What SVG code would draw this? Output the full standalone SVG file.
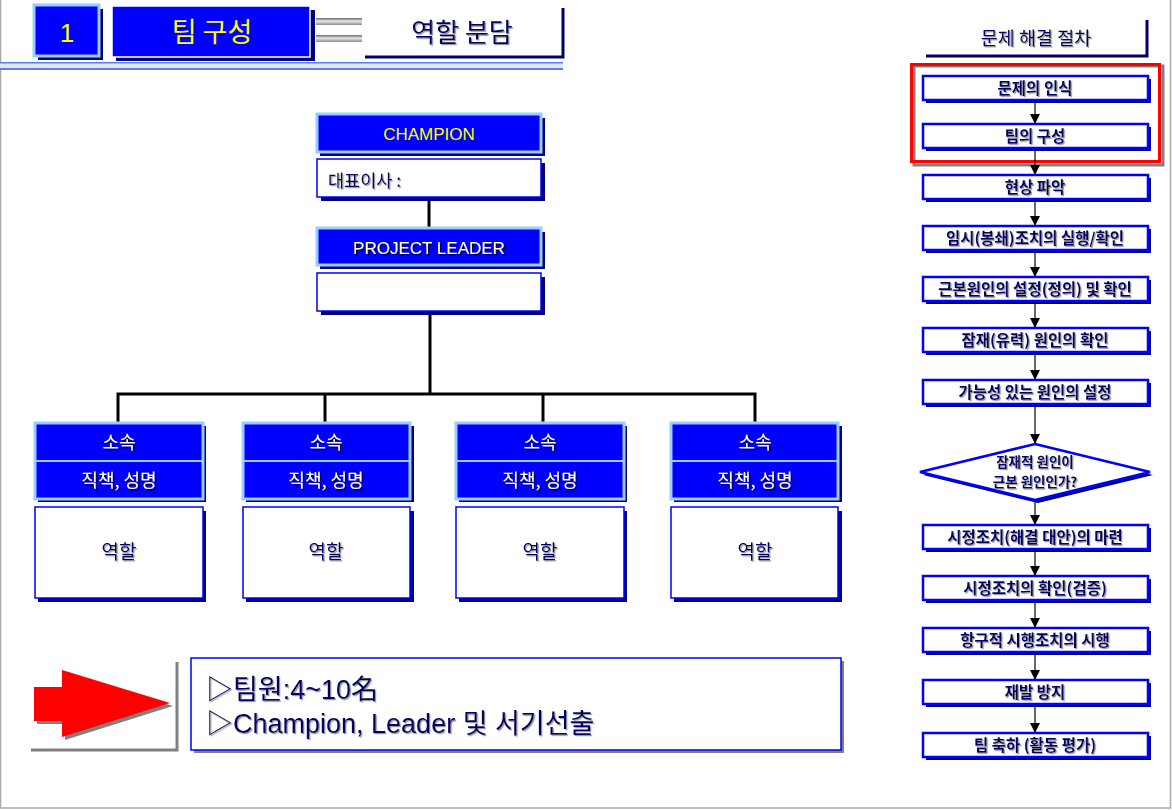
<svg xmlns="http://www.w3.org/2000/svg" width="1172" height="810" viewBox="0 0 1172 810">
<style>
.kr{font-family:"Noto Sans CJK KR","Liberation Sans",sans-serif}
.lat{font-family:"Liberation Sans","Noto Sans CJK KR",sans-serif}
.navy{fill:#000066}
.wht{fill:#ffffff}
.yel{fill:#ffff00}
.mid{text-anchor:middle}
.sh{fill:#000080}
.blue{fill:#0000ff;stroke:#99ccff;stroke-width:3}
.wbox{fill:#ffffff;stroke:#0000ff;stroke-width:1.5}
.fbox{fill:#ffffff;stroke:#0000ff;stroke-width:2.5}
.ft{font-size:15.5px;font-weight:bold}
.dt{font-size:13.5px;font-weight:bold}
.conn{stroke:#000;stroke-width:3;fill:none}
.arr{stroke:#000;stroke-width:1.2;fill:none}
</style>
<defs>
<filter id="ts" x="-10%" y="-30%" width="120%" height="160%">
<feDropShadow dx="1.2" dy="1.2" stdDeviation="0.5" flood-color="#8a8a8a" flood-opacity="0.9"/>
</filter>
<filter id="tsd" x="-10%" y="-30%" width="120%" height="160%">
<feDropShadow dx="1.3" dy="1.3" stdDeviation="0.3" flood-color="#000033" flood-opacity="1"/>
</filter>
<linearGradient id="gbar" x1="0" y1="0" x2="0" y2="1">
<stop offset="0" stop-color="#666666"/>
<stop offset="0.45" stop-color="#e8e8e8"/>
<stop offset="1" stop-color="#8c8c8c"/>
</linearGradient>
<marker id="ah" markerUnits="userSpaceOnUse" markerWidth="10" markerHeight="11" refX="10" refY="5" orient="auto">
<path d="M0,0 L10,5 L0,10 z" fill="#000"/>
</marker>
</defs>

<!-- page frame -->
<rect x="0.5" y="-2" width="1170" height="810" fill="#ffffff" stroke="#a8a8a8" stroke-width="1.5"/>

<!-- header -->
<g id="header">
<rect x="38" y="9" width="65" height="51" class="sh"/>
<rect x="34" y="5" width="65" height="51" class="blue"/>
<text x="67" y="42" class="lat yel mid" font-size="26">1</text>
<rect x="116" y="10" width="199" height="51" class="sh"/>
<rect x="112" y="6" width="198" height="51" fill="#0000ff" stroke="#ffffff" stroke-width="1.5"/>
<text x="212" y="42" class="kr yel mid" font-size="27">팀 구성</text>
<rect x="316" y="18" width="46" height="7" fill="url(#gbar)"/>
<rect x="316" y="35" width="46" height="7" fill="url(#gbar)"/>
<path d="M365,57 H563 V8" fill="none" stroke="#000066" stroke-width="3"/>
<text x="462" y="42" class="kr navy mid" font-size="26" filter="url(#ts)">역할 분담</text>
<rect x="0" y="62" width="563" height="8" fill="#dfe8ff"/>
<line x1="0" y1="62.7" x2="563" y2="62.7" stroke="#5a80f0" stroke-width="1.5"/>
<line x1="0" y1="69" x2="563" y2="69" stroke="#5a80f0" stroke-width="2"/>
</g>

<!-- connectors (org chart) -->
<g id="connectors">
<line x1="429" y1="197" x2="429" y2="228" class="conn"/>
<line x1="430" y1="311" x2="430" y2="394" class="conn"/>
<polyline points="118,423 118,394 755,394 755,423" class="conn"/>
<line x1="325" y1="394" x2="325" y2="423" class="conn"/>
<line x1="543" y1="394" x2="543" y2="423" class="conn"/>
</g>

<g id="champion">
<rect x="320" y="118" width="225" height="38" class="sh"/>
<rect x="317" y="114" width="224" height="38" class="blue"/>
<text x="429" y="140" class="lat yel mid" font-size="17">CHAMPION</text>
</g>
<g id="ceo">
<rect x="321" y="163" width="224" height="38" class="sh"/>
<rect x="317" y="159" width="224" height="38" class="wbox"/>
<text x="328" y="187" class="kr navy" font-size="17.5" filter="url(#ts)">대표이사 :</text>
</g>
<g id="leader">
<rect x="320" y="232" width="225" height="37" class="sh"/>
<rect x="317" y="228" width="224" height="37" class="blue"/>
<text x="429" y="254" class="lat wht mid" font-size="17" filter="url(#tsd)">PROJECT LEADER</text>
</g>
<g id="leader-name">
<rect x="321" y="277" width="224" height="38" class="sh"/>
<rect x="317" y="273" width="224" height="38" class="wbox"/>
</g>

<g id="member1">
<rect x="38" y="426" width="168" height="76" class="sh"/>
<rect x="35" y="423" width="168" height="76" class="blue"/>
<line x1="35" y1="461" x2="203" y2="461" stroke="#99ccff" stroke-width="2"/>
<text x="119" y="449" class="kr wht mid" font-size="18" filter="url(#tsd)">소속</text>
<text x="119" y="487" class="kr wht mid" font-size="18" filter="url(#tsd)">직책, 성명</text>
<rect x="38" y="511" width="168" height="91" class="sh"/>
<rect x="35" y="507" width="168" height="91" class="wbox"/>
<text x="119" y="559" class="kr navy mid" font-size="19" filter="url(#ts)">역할</text>
</g>
<g id="member2">
<rect x="246" y="426" width="168" height="76" class="sh"/>
<rect x="243" y="423" width="167" height="76" class="blue"/>
<line x1="243" y1="461" x2="410" y2="461" stroke="#99ccff" stroke-width="2"/>
<text x="326" y="449" class="kr wht mid" font-size="18" filter="url(#tsd)">소속</text>
<text x="326" y="487" class="kr wht mid" font-size="18" filter="url(#tsd)">직책, 성명</text>
<rect x="246" y="511" width="168" height="91" class="sh"/>
<rect x="243" y="507" width="167" height="91" class="wbox"/>
<text x="326" y="559" class="kr navy mid" font-size="19" filter="url(#ts)">역할</text>
</g>
<g id="member3">
<rect x="459" y="426" width="168" height="76" class="sh"/>
<rect x="456" y="423" width="168" height="76" class="blue"/>
<line x1="456" y1="461" x2="624" y2="461" stroke="#99ccff" stroke-width="2"/>
<text x="540" y="449" class="kr wht mid" font-size="18" filter="url(#tsd)">소속</text>
<text x="540" y="487" class="kr wht mid" font-size="18" filter="url(#tsd)">직책, 성명</text>
<rect x="459" y="511" width="168" height="91" class="sh"/>
<rect x="456" y="507" width="168" height="91" class="wbox"/>
<text x="540" y="559" class="kr navy mid" font-size="19" filter="url(#ts)">역할</text>
</g>
<g id="member4">
<rect x="674" y="426" width="168" height="76" class="sh"/>
<rect x="671" y="423" width="167" height="76" class="blue"/>
<line x1="671" y1="461" x2="838" y2="461" stroke="#99ccff" stroke-width="2"/>
<text x="755" y="449" class="kr wht mid" font-size="18" filter="url(#tsd)">소속</text>
<text x="755" y="487" class="kr wht mid" font-size="18" filter="url(#tsd)">직책, 성명</text>
<rect x="674" y="511" width="168" height="91" class="sh"/>
<rect x="671" y="507" width="167" height="91" class="wbox"/>
<text x="755" y="559" class="kr navy mid" font-size="19" filter="url(#ts)">역할</text>
</g>

<!-- bottom note -->
<g id="red-arrow">
<polyline points="31,750 177,750 177,662" fill="none" stroke="#808080" stroke-width="3"/>
<polygon points="37,690 65,690 65,673 173,706 65,740 65,724 37,724" fill="#808080"/>
<polygon points="34,687 62,687 62,670 170,703 62,737 62,721 34,721" fill="#ff0000"/>
</g>
<g id="note">
<rect x="194" y="661" width="650" height="92" fill="#808080"/>
<rect x="191" y="658" width="650" height="92" fill="#ffffff" stroke="#0000ff" stroke-width="1.5"/>
<text x="206" y="699" class="lat navy" font-size="27" filter="url(#ts)">▷팀원:4~10名</text>
<text x="206" y="733" class="lat navy" font-size="27" filter="url(#ts)">▷Champion, Leader 및 서기선출</text>
</g>

<!-- right column: procedure -->
<g id="proc-title">
<path d="M926,56 H1147 V20" fill="none" stroke="#000066" stroke-width="3"/>
<text x="1036" y="45" class="kr navy mid" font-size="18.5" filter="url(#ts)">문제 해결 절차</text>
</g>
<g id="highlight">
<rect x="914" y="66" width="249" height="99" fill="none" stroke="#808080" stroke-width="3"/>
<rect x="911.5" y="64.5" width="248" height="97" fill="none" stroke="#ff0000" stroke-width="3"/>
</g>

<g id="flow-connectors">
<line x1="1035" y1="100" x2="1035" y2="124" class="arr" marker-end="url(#ah)"/>
<line x1="1035" y1="148" x2="1035" y2="175" class="arr" marker-end="url(#ah)"/>
<line x1="1035" y1="199" x2="1035" y2="226" class="arr" marker-end="url(#ah)"/>
<line x1="1035" y1="250" x2="1035" y2="277" class="arr" marker-end="url(#ah)"/>
<line x1="1035" y1="301" x2="1035" y2="328" class="arr" marker-end="url(#ah)"/>
<line x1="1035" y1="352" x2="1035" y2="380" class="arr" marker-end="url(#ah)"/>
<line x1="1035" y1="404" x2="1035" y2="444" class="arr" marker-end="url(#ah)"/>
<line x1="1035" y1="500" x2="1035" y2="525" class="arr" marker-end="url(#ah)"/>
<line x1="1035" y1="549" x2="1035" y2="576" class="arr" marker-end="url(#ah)"/>
<line x1="1035" y1="600" x2="1035" y2="628" class="arr" marker-end="url(#ah)"/>
<line x1="1035" y1="652" x2="1035" y2="680" class="arr" marker-end="url(#ah)"/>
<line x1="1035" y1="704" x2="1035" y2="733" class="arr" marker-end="url(#ah)"/>
</g>

<g id="step1"><rect x="926" y="79" width="225" height="24" class="sh"/><rect x="923" y="76" width="225" height="24" class="fbox"/><text x="1035" y="93.5" class="kr navy mid ft" filter="url(#ts)">문제의 인식</text></g>
<g id="step2"><rect x="926" y="127" width="225" height="24" class="sh"/><rect x="923" y="124" width="225" height="24" class="fbox"/><text x="1035" y="141.5" class="kr navy mid ft" filter="url(#ts)">팀의 구성</text></g>
<g id="step3"><rect x="926" y="178" width="225" height="24" class="sh"/><rect x="923" y="175" width="225" height="24" class="fbox"/><text x="1035" y="192.5" class="kr navy mid ft" filter="url(#ts)">현상 파악</text></g>
<g id="step4"><rect x="926" y="229" width="225" height="24" class="sh"/><rect x="923" y="226" width="225" height="24" class="fbox"/><text x="1035" y="243.5" class="kr navy mid ft" filter="url(#ts)">임시(봉쇄)조치의 실행/확인</text></g>
<g id="step5"><rect x="926" y="280" width="225" height="24" class="sh"/><rect x="923" y="277" width="225" height="24" class="fbox"/><text x="1035" y="294.5" class="kr navy mid ft" filter="url(#ts)">근본원인의 설정(정의) 및 확인</text></g>
<g id="step6"><rect x="926" y="331" width="225" height="24" class="sh"/><rect x="923" y="328" width="225" height="24" class="fbox"/><text x="1035" y="345.5" class="kr navy mid ft" filter="url(#ts)">잠재(유력) 원인의 확인</text></g>
<g id="step7"><rect x="926" y="383" width="225" height="24" class="sh"/><rect x="923" y="380" width="225" height="24" class="fbox"/><text x="1035" y="397.5" class="kr navy mid ft" filter="url(#ts)">가능성 있는 원인의 설정</text></g>
<g id="decision">
<polygon points="1038,447 1153,475 1038,503 923,475" class="sh"/>
<polygon points="1035,444 1150,472 1035,500 920,472" class="fbox"/>
<text x="1035" y="467" class="kr navy mid dt" filter="url(#ts)">잠재적 원인이</text>
<text x="1035" y="487" class="kr navy mid dt" filter="url(#ts)">근본 원인인가?</text>
</g>
<g id="step8"><rect x="926" y="528" width="225" height="24" class="sh"/><rect x="923" y="525" width="225" height="24" class="fbox"/><text x="1035" y="542.5" class="kr navy mid ft" filter="url(#ts)">시정조치(해결 대안)의 마련</text></g>
<g id="step9"><rect x="926" y="579" width="225" height="24" class="sh"/><rect x="923" y="576" width="225" height="24" class="fbox"/><text x="1035" y="593.5" class="kr navy mid ft" filter="url(#ts)">시정조치의 확인(검증)</text></g>
<g id="step10"><rect x="926" y="631" width="225" height="24" class="sh"/><rect x="923" y="628" width="225" height="24" class="fbox"/><text x="1035" y="645.5" class="kr navy mid ft" filter="url(#ts)">항구적 시행조치의 시행</text></g>
<g id="step11"><rect x="926" y="683" width="225" height="24" class="sh"/><rect x="923" y="680" width="225" height="24" class="fbox"/><text x="1035" y="697.5" class="kr navy mid ft" filter="url(#ts)">재발 방지</text></g>
<g id="step12"><rect x="926" y="736" width="225" height="24" class="sh"/><rect x="923" y="733" width="225" height="24" class="fbox"/><text x="1035" y="750.5" class="kr navy mid ft" filter="url(#ts)">팀 축하 (활동 평가)</text></g>
</svg>
